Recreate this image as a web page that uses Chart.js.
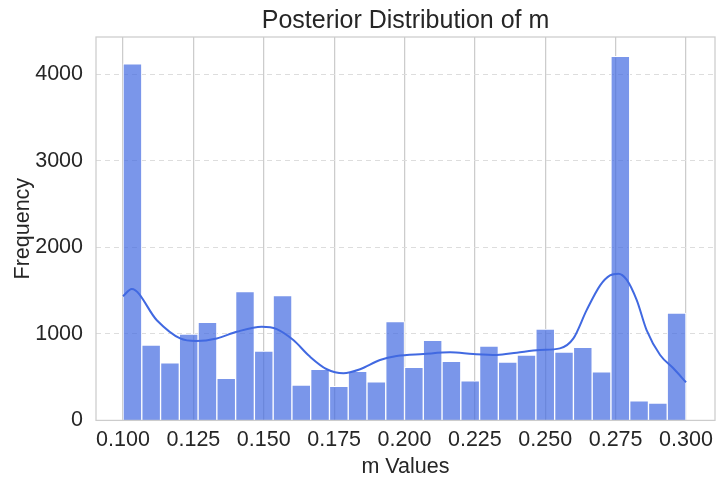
<!DOCTYPE html>
<html>
<head>
<meta charset="utf-8">
<script src="https://cdn.jsdelivr.net/npm/chart.js@4/dist/chart.umd.min.js"></script>
<style>
  html, body { margin: 0; padding: 0; background: #fff; }
  #wrap { width: 724px; height: 486px; }
</style>
</head>
<body>
<div id="wrap"><canvas id="chart"></canvas></div>
<script>
// histogram: 30 bins over [0.1, 0.3]
var binStart = 0.1;
var binEnd = 0.3;
var binCounts = [4120, 871, 664, 997, 1132, 487, 1488, 802, 1442, 407,
                 591, 395, 568, 445, 1143, 614, 924, 683, 456, 859,
                 675, 756, 1055, 790, 844, 560, 4208, 226, 199, 1239];

// kde curve (m value, frequency)
var kdeX = [0.100, 0.1031, 0.112, 0.1203, 0.126, 0.1333, 0.1404, 0.1493, 0.1546, 0.1605,
            0.1664, 0.1724, 0.1783, 0.1842, 0.1913, 0.1972, 0.2067, 0.2162, 0.2244, 0.2328,
            0.2399, 0.2481, 0.2552, 0.260, 0.2647, 0.2695, 0.273, 0.276, 0.2789, 0.2825,
            0.286, 0.2908, 0.2955, 0.300];
var kdeY = [1435, 1519, 1158, 947, 917, 947, 1024, 1082, 1055, 928,
            737, 591, 545, 591, 698, 744, 767, 786, 767, 756,
            783, 813, 832, 947, 1274, 1561, 1676, 1695, 1626, 1389,
            1043, 756, 602, 441];

var xTicks = [0.100, 0.125, 0.150, 0.175, 0.200, 0.225, 0.250, 0.275, 0.300];
var yTicks = [0, 1000, 2000, 3000, 4000];

var binWidth = (binEnd - binStart) / binCounts.length;
var barData = binCounts.map(function (c, i) {
    return { x: binStart + binWidth * (i + 0.5), y: c };
});
var kdeData = kdeX.map(function (x, i) {
    return { x: x, y: kdeY[i] };
});

var textColor = '#262626';
var fontFamily = '"Liberation Sans", Arial, sans-serif';

// light grey frame round the plot area, like the seaborn whitegrid spines
var frame = {
    id: 'frame',
    afterDraw: function (chart) {
        var a = chart.chartArea;
        var ctx = chart.ctx;
        ctx.save();
        ctx.strokeStyle = '#cccccc';
        ctx.lineWidth = 1.25;
        ctx.strokeRect(a.left, a.top, a.right - a.left, a.bottom - a.top);
        ctx.restore();
    }
};

new Chart(document.getElementById('chart'), {
    type: 'bar',
    data: {
        datasets: [{
            type: 'line',
            data: kdeData,
            borderColor: '#4169e1',
            borderWidth: 2,
            pointRadius: 0,
            tension: 0.4,
            cubicInterpolationMode: 'monotone',
            fill: false,
            order: 0
        }, {
            data: barData,
            backgroundColor: 'rgba(65,105,225,0.7)',
            borderColor: '#ffffff',
            borderWidth: 1,
            barPercentage: 1,
            categoryPercentage: 1,
            order: 1
        }]
    },
    options: {
        responsive: true,
        maintainAspectRatio: false,
        animation: false,
        layout: {
            padding: { left: 10, right: 9, top: 0, bottom: 6 }
        },
        plugins: {
            legend: { display: false },
            tooltip: { enabled: false },
            title: {
                display: true,
                fullSize: false,   // centre over the plot area, not the canvas
                text: 'Posterior Distribution of m',
                color: textColor,
                font: { family: fontFamily, size: 25, weight: 'normal' },
                padding: { top: 6, bottom: 1 }
            }
        },
        scales: {
            x: {
                type: 'linear',
                offset: false,
                min: 0.0904,
                max: 0.3103,
                afterBuildTicks: function (axis) {
                    axis.ticks = xTicks.map(function (v) { return { value: v }; });
                },
                afterFit: function (axis) {
                    // end labels sit inside the plot, no extra side room needed
                    axis.paddingLeft = 0;
                    axis.paddingRight = 0;
                },
                ticks: {
                    color: textColor,
                    font: { family: fontFamily, size: 21.5 },
                    padding: 7,
                    maxRotation: 0,
                    autoSkip: false,
                    callback: function (v) { return v.toFixed(3); }
                },
                grid: { offset: false, color: '#cccccc', lineWidth: 1.25, drawTicks: false },
                border: { display: false },
                title: {
                    display: true,
                    text: 'm Values',
                    color: textColor,
                    font: { family: fontFamily, size: 21.5 },
                    padding: { top: -6, bottom: 0 }
                }
            },
            y: {
                min: 0,
                max: 4430,
                afterBuildTicks: function (axis) {
                    axis.ticks = yTicks.map(function (v) { return { value: v }; });
                },
                afterFit: function (axis) {
                    axis.width = 86;
                },
                ticks: {
                    color: textColor,
                    font: { family: fontFamily, size: 21.5 },
                    padding: 13,
                    callback: function (v) { return String(v); }
                },
                grid: { color: '#dddddd', lineWidth: 1, drawTicks: false },
                border: { display: false, dash: [5, 4] },
                title: {
                    display: true,
                    text: 'Frequency',
                    color: textColor,
                    font: { family: fontFamily, size: 21.5 },
                    padding: { top: 0, bottom: 0 }
                }
            }
        }
    },
    plugins: [frame]
});
</script>
</body>
</html>
